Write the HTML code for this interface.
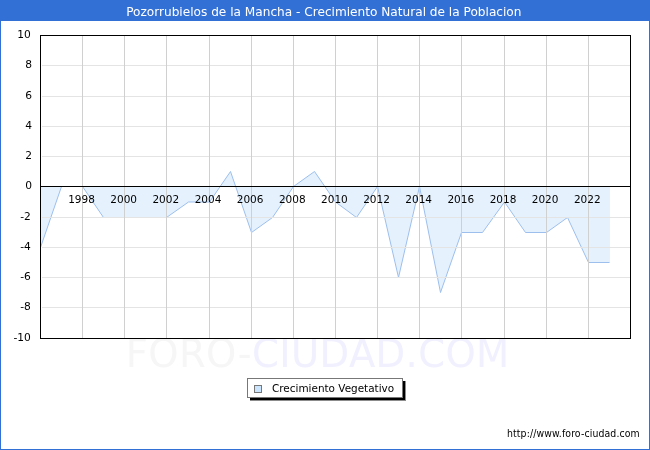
<!DOCTYPE html>
<html><head><meta charset="utf-8"><title>Pozorrubielos de la Mancha - Crecimiento Natural de la Poblacion</title>
<style>
html,body{margin:0;padding:0;background:#fff;}
body{width:650px;height:450px;overflow:hidden;}
svg{display:block;}
text{font-family:"DejaVu Sans","Liberation Sans",sans-serif;}
</style></head><body>
<svg width="650" height="450" viewBox="0 0 650 450">
<rect x="0" y="0" width="650" height="450" fill="#ffffff"/>
<text x="125.8" y="367" font-size="38.5" letter-spacing="0.36" fill="#f6f6f6"><tspan>FORO-</tspan><tspan fill="#f0f0ff">CIUDAD.COM</tspan></text>
<rect x="40" y="35" width="590" height="303" fill="#ffffff"/>
<polygon points="40.50,186.50 40.50,247.50 61.50,186.50 82.50,186.50 103.50,217.50 124.50,217.50 145.50,217.50 166.50,217.50 188.50,202.00 209.50,202.00 230.50,171.50 251.50,232.50 272.50,217.50 293.50,186.50 314.50,171.50 335.50,202.00 356.50,217.50 377.50,186.50 398.50,277.50 419.50,186.50 440.50,292.50 461.50,232.50 482.50,232.50 504.50,202.00 525.50,232.50 546.50,232.50 567.50,217.50 588.50,262.50 609.50,262.50 610.00,262.50 610.00,186.50" fill="#e5f2fe"/>
<polyline points="40.50,247.50 61.50,186.50 82.50,186.50 103.50,217.50 124.50,217.50 145.50,217.50 166.50,217.50 188.50,202.00 209.50,202.00 230.50,171.50 251.50,232.50 272.50,217.50 293.50,186.50 314.50,171.50 335.50,202.00 356.50,217.50 377.50,186.50 398.50,277.50 419.50,186.50 440.50,292.50 461.50,232.50 482.50,232.50 504.50,202.00 525.50,232.50 546.50,232.50 567.50,217.50 588.50,262.50 609.50,262.50" fill="none" stroke="#9dbfee" stroke-width="1"/>
<line x1="42" y1="65.5" x2="630" y2="65.5" stroke="#e4e4e4" stroke-width="1"/>
<line x1="42" y1="96.5" x2="630" y2="96.5" stroke="#e4e4e4" stroke-width="1"/>
<line x1="42" y1="126.5" x2="630" y2="126.5" stroke="#e4e4e4" stroke-width="1"/>
<line x1="42" y1="156.5" x2="630" y2="156.5" stroke="#e4e4e4" stroke-width="1"/>
<line x1="42" y1="217.5" x2="630" y2="217.5" stroke="#e4e4e4" stroke-width="1"/>
<line x1="42" y1="247.5" x2="630" y2="247.5" stroke="#e4e4e4" stroke-width="1"/>
<line x1="42" y1="277.5" x2="630" y2="277.5" stroke="#e4e4e4" stroke-width="1"/>
<line x1="42" y1="307.5" x2="630" y2="307.5" stroke="#e4e4e4" stroke-width="1"/>
<line x1="82.5" y1="35" x2="82.5" y2="338" stroke="#d0d0d0" stroke-width="1"/>
<line x1="124.5" y1="35" x2="124.5" y2="338" stroke="#d0d0d0" stroke-width="1"/>
<line x1="166.5" y1="35" x2="166.5" y2="338" stroke="#d0d0d0" stroke-width="1"/>
<line x1="209.5" y1="35" x2="209.5" y2="338" stroke="#d0d0d0" stroke-width="1"/>
<line x1="251.5" y1="35" x2="251.5" y2="338" stroke="#d0d0d0" stroke-width="1"/>
<line x1="293.5" y1="35" x2="293.5" y2="338" stroke="#d0d0d0" stroke-width="1"/>
<line x1="335.5" y1="35" x2="335.5" y2="338" stroke="#d0d0d0" stroke-width="1"/>
<line x1="377.5" y1="35" x2="377.5" y2="338" stroke="#d0d0d0" stroke-width="1"/>
<line x1="419.5" y1="35" x2="419.5" y2="338" stroke="#d0d0d0" stroke-width="1"/>
<line x1="461.5" y1="35" x2="461.5" y2="338" stroke="#d0d0d0" stroke-width="1"/>
<line x1="504.5" y1="35" x2="504.5" y2="338" stroke="#d0d0d0" stroke-width="1"/>
<line x1="546.5" y1="35" x2="546.5" y2="338" stroke="#d0d0d0" stroke-width="1"/>
<line x1="588.5" y1="35" x2="588.5" y2="338" stroke="#d0d0d0" stroke-width="1"/>
<line x1="40" y1="186.5" x2="630" y2="186.5" stroke="#000" stroke-width="1"/>
<rect x="40.5" y="35.5" width="590" height="303" fill="none" stroke="#000" stroke-width="1"/>
<text x="30.8" y="37.7" font-size="10.67" text-anchor="end" fill="#000">10</text>
<text x="32" y="67.7" font-size="10.67" text-anchor="end" fill="#000">8</text>
<text x="32" y="98.7" font-size="10.67" text-anchor="end" fill="#000">6</text>
<text x="32" y="128.7" font-size="10.67" text-anchor="end" fill="#000">4</text>
<text x="32" y="158.7" font-size="10.67" text-anchor="end" fill="#000">2</text>
<text x="32" y="188.7" font-size="10.67" text-anchor="end" fill="#000">0</text>
<text x="30.8" y="219.7" font-size="10.67" text-anchor="end" fill="#000">-2</text>
<text x="30.8" y="249.7" font-size="10.67" text-anchor="end" fill="#000">-4</text>
<text x="30.8" y="279.7" font-size="10.67" text-anchor="end" fill="#000">-6</text>
<text x="30.8" y="309.7" font-size="10.67" text-anchor="end" fill="#000">-8</text>
<text x="30.8" y="340.7" font-size="10.67" text-anchor="end" fill="#000">-10</text>
<text x="81.5" y="203" font-size="10.5" text-anchor="middle" fill="#000">1998</text>
<text x="123.7" y="203" font-size="10.5" text-anchor="middle" fill="#000">2000</text>
<text x="165.8" y="203" font-size="10.5" text-anchor="middle" fill="#000">2002</text>
<text x="208.0" y="203" font-size="10.5" text-anchor="middle" fill="#000">2004</text>
<text x="250.1" y="203" font-size="10.5" text-anchor="middle" fill="#000">2006</text>
<text x="292.3" y="203" font-size="10.5" text-anchor="middle" fill="#000">2008</text>
<text x="334.4" y="203" font-size="10.5" text-anchor="middle" fill="#000">2010</text>
<text x="376.5" y="203" font-size="10.5" text-anchor="middle" fill="#000">2012</text>
<text x="418.7" y="203" font-size="10.5" text-anchor="middle" fill="#000">2014</text>
<text x="460.8" y="203" font-size="10.5" text-anchor="middle" fill="#000">2016</text>
<text x="503.0" y="203" font-size="10.5" text-anchor="middle" fill="#000">2018</text>
<text x="545.1" y="203" font-size="10.5" text-anchor="middle" fill="#000">2020</text>
<text x="587.3" y="203" font-size="10.5" text-anchor="middle" fill="#000">2022</text>
<rect x="0" y="0" width="650" height="21" fill="#3370d6"/>
<rect x="0" y="0" width="1" height="450" fill="#3370d6"/><rect x="649" y="0" width="1" height="450" fill="#3370d6"/><rect x="0" y="449" width="650" height="1" fill="#3370d6"/>
<text x="323.8" y="15.6" font-size="12.137" text-anchor="middle" fill="#ffffff">Pozorrubielos de la Mancha - Crecimiento Natural de la Poblacion</text>
<rect x="250" y="381" width="156" height="20" fill="#8c8c8c"/>
<rect x="250" y="381" width="155" height="19" fill="#000"/>
<rect x="247.5" y="378.5" width="155" height="19" fill="#fff" stroke="#777" stroke-width="1"/>
<rect x="254.5" y="385.5" width="7" height="7" fill="#cce5ff" stroke="#777" stroke-width="1"/>
<text x="272" y="392" font-size="10.44" fill="#000">Crecimiento Vegetativo</text>
<text x="639.8" y="437" font-size="10.4" font-stretch="condensed" style="font-family:'DejaVu Sans Condensed','DejaVu Sans','Liberation Sans',sans-serif;font-stretch:condensed;letter-spacing:0.12px" text-anchor="end" fill="#000">http://www.foro-ciudad.com</text>
</svg></body></html>
